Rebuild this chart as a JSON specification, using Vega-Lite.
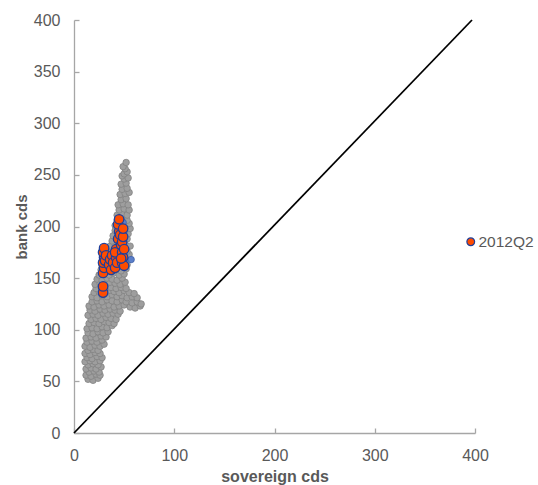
{
  "$schema": "https://vega.github.io/schema/vega-lite/v6.json",
  "width": 401,
  "height": 413,
  "autosize": "none",
  "padding": {"left": 74, "top": 20, "right": 63, "bottom": 52},
  "background": "white",
  "datasets": {
    "cloud": [
      {"s":14,"b":52},{"s":19,"b":51},{"s":24,"b":53},{"s":12,"b":56},{"s":17,"b":55},{"s":22,"b":57},{"s":26,"b":56},{"s":15,"b":59},{"s":20,"b":60},{"s":25,"b":59},
      {"s":12,"b":62},{"s":17,"b":63},{"s":22,"b":62},{"s":27,"b":64},{"s":14,"b":66},{"s":19,"b":67},{"s":24,"b":66},{"s":11,"b":69},{"s":16,"b":70},{"s":21,"b":69},{"s":26,"b":70},
      {"s":13,"b":73},{"s":18,"b":72},{"s":23,"b":74},{"s":28,"b":73},{"s":11,"b":77},{"s":16,"b":76},{"s":21,"b":78},{"s":26,"b":77},{"s":14,"b":80},{"s":19,"b":81},{"s":24,"b":80},
      {"s":11,"b":84},{"s":16,"b":83},{"s":21,"b":85},{"s":26,"b":84},{"s":30,"b":86},{"s":13,"b":88},{"s":18,"b":89},{"s":23,"b":88},{"s":28,"b":90},
      {"s":12,"b":92},{"s":17,"b":93},{"s":22,"b":92},{"s":27,"b":94},{"s":32,"b":93},{"s":14,"b":97},{"s":19,"b":96},{"s":24,"b":98},{"s":29,"b":97},{"s":34,"b":98},
      {"s":13,"b":101},{"s":18,"b":102},{"s":23,"b":101},{"s":28,"b":103},{"s":33,"b":102},{"s":38,"b":104},{"s":15,"b":106},{"s":20,"b":107},{"s":25,"b":106},{"s":30,"b":108},{"s":35,"b":107},{"s":40,"b":106},{"s":17,"b":110},{"s":22,"b":111},{"s":27,"b":110},{"s":32,"b":112},{"s":37,"b":111},{"s":42,"b":110},
      {"s":14,"b":114},{"s":19,"b":115},{"s":24,"b":114},{"s":29,"b":116},{"s":34,"b":115},{"s":39,"b":116},{"s":44,"b":115},{"s":16,"b":119},{"s":21,"b":118},{"s":26,"b":120},{"s":31,"b":119},{"s":36,"b":120},{"s":41,"b":119},{"s":46,"b":118},
      {"s":15,"b":123},{"s":20,"b":122},{"s":25,"b":124},{"s":30,"b":123},{"s":35,"b":124},{"s":40,"b":122},{"s":45,"b":123},{"s":50,"b":124},{"s":56,"b":122},{"s":61,"b":121},{"s":66,"b":123},{"s":18,"b":127},{"s":23,"b":128},{"s":28,"b":127},{"s":33,"b":129},{"s":38,"b":128},{"s":43,"b":127},{"s":48,"b":129},{"s":52,"b":127},{"s":58,"b":126},{"s":63,"b":127},{"s":67,"b":125},
      {"s":18,"b":132},{"s":23,"b":131},{"s":28,"b":133},{"s":33,"b":132},{"s":38,"b":134},{"s":43,"b":132},{"s":48,"b":133},{"s":53,"b":131},{"s":58,"b":132},{"s":63,"b":131},{"s":20,"b":136},{"s":25,"b":137},{"s":30,"b":136},{"s":35,"b":138},{"s":40,"b":137},{"s":45,"b":136},{"s":50,"b":138},{"s":55,"b":136},{"s":60,"b":135},{"s":22,"b":140},{"s":27,"b":141},{"s":32,"b":140},{"s":37,"b":141},{"s":42,"b":140},{"s":47,"b":141},{"s":52,"b":140},
      {"s":21,"b":144},{"s":26,"b":145},{"s":31,"b":144},{"s":36,"b":146},{"s":41,"b":145},{"s":46,"b":144},{"s":51,"b":146},{"s":23,"b":149},{"s":28,"b":148},{"s":33,"b":150},{"s":38,"b":149},{"s":43,"b":148},{"s":48,"b":150},
      {"s":25,"b":153},{"s":30,"b":154},{"s":35,"b":153},{"s":40,"b":155},{"s":45,"b":153},{"s":50,"b":154},{"s":27,"b":158},{"s":32,"b":157},{"s":37,"b":159},{"s":42,"b":158},{"s":47,"b":157},{"s":52,"b":159},
      {"s":28,"b":162},{"s":33,"b":163},{"s":38,"b":162},{"s":43,"b":164},{"s":48,"b":162},{"s":53,"b":163},{"s":30,"b":167},{"s":35,"b":166},{"s":40,"b":168},{"s":45,"b":167},{"s":50,"b":166},{"s":55,"b":168},
      {"s":31,"b":172},{"s":36,"b":171},{"s":41,"b":173},{"s":46,"b":172},{"s":51,"b":171},{"s":55,"b":173},{"s":33,"b":176},{"s":38,"b":177},{"s":43,"b":176},{"s":48,"b":178},{"s":53,"b":176},
      {"s":36,"b":181},{"s":41,"b":182},{"s":46,"b":181},{"s":51,"b":183},{"s":56,"b":181},{"s":38,"b":186},{"s":43,"b":187},{"s":48,"b":186},{"s":53,"b":188},
      {"s":39,"b":191},{"s":44,"b":192},{"s":49,"b":191},{"s":54,"b":193},{"s":41,"b":196},{"s":46,"b":197},{"s":51,"b":196},{"s":56,"b":198},
      {"s":41,"b":201},{"s":46,"b":202},{"s":51,"b":201},{"s":55,"b":203},{"s":43,"b":206},{"s":48,"b":207},{"s":53,"b":206},
      {"s":43,"b":211},{"s":48,"b":212},{"s":53,"b":211},{"s":45,"b":216},{"s":50,"b":217},{"s":55,"b":216},
      {"s":44,"b":221},{"s":49,"b":222},{"s":54,"b":221},{"s":47,"b":226},{"s":52,"b":227},
      {"s":46,"b":231},{"s":51,"b":232},{"s":55,"b":233},{"s":48,"b":236},{"s":53,"b":237},
      {"s":47,"b":241},{"s":52,"b":242},{"s":50,"b":246},{"s":54,"b":247},{"s":48,"b":249},
      {"s":50,"b":251},{"s":53,"b":253},{"s":51,"b":256},{"s":49,"b":258},{"s":52,"b":262}
    ],
    "other": [
      {"s":57,"b":168},{"s":49,"b":204}
    ],
    "q2": [
      {"s":29,"b":136,"q":"2012Q2"},{"s":29,"b":142,"q":"2012Q2"},
      {"s":29,"b":155,"q":"2012Q2"},{"s":30,"b":160,"q":"2012Q2"},{"s":29,"b":165,"q":"2012Q2"},{"s":30,"b":170,"q":"2012Q2"},{"s":29,"b":175,"q":"2012Q2"},{"s":30,"b":179,"q":"2012Q2"},{"s":31,"b":167,"q":"2012Q2"},{"s":32,"b":172,"q":"2012Q2"},
      {"s":35,"b":163,"q":"2012Q2"},{"s":36,"b":168,"q":"2012Q2"},{"s":37,"b":158,"q":"2012Q2"},{"s":38,"b":172,"q":"2012Q2"},{"s":39,"b":165,"q":"2012Q2"},
      {"s":41,"b":160,"q":"2012Q2"},{"s":42,"b":170,"q":"2012Q2"},{"s":42,"b":178,"q":"2012Q2"},{"s":43,"b":165,"q":"2012Q2"},{"s":41,"b":175,"q":"2012Q2"},
      {"s":44,"b":188,"q":"2012Q2"},{"s":45,"b":195,"q":"2012Q2"},{"s":44,"b":202,"q":"2012Q2"},{"s":45,"b":207,"q":"2012Q2"},{"s":46,"b":192,"q":"2012Q2"},
      {"s":47,"b":182,"q":"2012Q2"},{"s":48,"b":175,"q":"2012Q2"},{"s":48,"b":185,"q":"2012Q2"},{"s":49,"b":190,"q":"2012Q2"},{"s":49,"b":198,"q":"2012Q2"},{"s":49,"b":170,"q":"2012Q2"},{"s":48,"b":165,"q":"2012Q2"},{"s":50,"b":178,"q":"2012Q2"},{"s":50,"b":162,"q":"2012Q2"},{"s":47,"b":169,"q":"2012Q2"}
    ],
    "diag": [{"s":0,"b":0},{"s":397,"b":400}]
  },
  "layer": [
    {
      "data": {"name": "diag"},
      "mark": {"type": "line", "color": "#000000", "strokeWidth": 1.8},
      "encoding": {
        "x": {"field": "s", "type": "quantitative", "scale": {"domain": [0, 400], "nice": false},
          "axis": {"values": [0, 100, 200, 300, 400], "title": "sovereign cds", "labelPadding": 19, "titlePadding": 5, "titleFontSize": 16}},
        "y": {"field": "b", "type": "quantitative", "scale": {"domain": [0, 400], "nice": false},
          "axis": {"values": [0, 50, 100, 150, 200, 250, 300, 350, 400], "title": "bank cds", "labelPadding": 19, "titlePadding": 4}}
      }
    },
    {
      "data": {"name": "cloud"},
      "mark": {"type": "point", "filled": true, "shape": "circle", "size": 42, "fill": "#9e9e9e", "stroke": "#838383", "strokeWidth": 0.8, "opacity": 1},
      "encoding": {
        "x": {"field": "s", "type": "quantitative"},
        "y": {"field": "b", "type": "quantitative"}
      }
    },
    {
      "data": {"name": "other"},
      "mark": {"type": "point", "filled": true, "shape": "circle", "size": 42, "fill": "#5b7fc9", "stroke": "#3e5fa8", "strokeWidth": 0.8, "opacity": 1},
      "encoding": {
        "x": {"field": "s", "type": "quantitative"},
        "y": {"field": "b", "type": "quantitative"}
      }
    },
    {
      "data": {"name": "q2"},
      "mark": {"type": "point", "filled": true, "shape": "circle", "size": 90, "stroke": "#203f9a", "strokeWidth": 1.3, "opacity": 1},
      "encoding": {
        "x": {"field": "s", "type": "quantitative"},
        "y": {"field": "b", "type": "quantitative"},
        "fill": {"field": "q", "type": "nominal", "scale": {"range": ["#ff4c00"]},
          "legend": {"title": null, "orient": "none", "legendX": 389, "legendY": 214, "symbolType": "circle", "symbolSize": 60, "symbolStrokeColor": "#203f9a", "symbolStrokeWidth": 1.2, "symbolOpacity": 1, "labelFontSize": 15.5, "labelColor": "#595959", "labelFont": "Liberation Sans", "labelOffset": 0, "padding": 0}}
      }
    }
  ],
  "config": {
    "view": {"stroke": null},
    "font": "Liberation Sans",
    "axis": {
      "grid": false,
      "domainColor": "#a6a6a6",
      "domainWidth": 1.3,
      "tickColor": "#a6a6a6",
      "tickWidth": 1.3,
      "tickSize": -5,
      "labelFont": "Liberation Sans",
      "labelFontSize": 16,
      "labelColor": "#595959",
      "titleFont": "Liberation Sans",
      "titleFontSize": 15,
      "titleFontWeight": "bold",
      "titleColor": "#595959",
      "labelFlush": false,
      "labelOverlap": false
    }
  }
}
